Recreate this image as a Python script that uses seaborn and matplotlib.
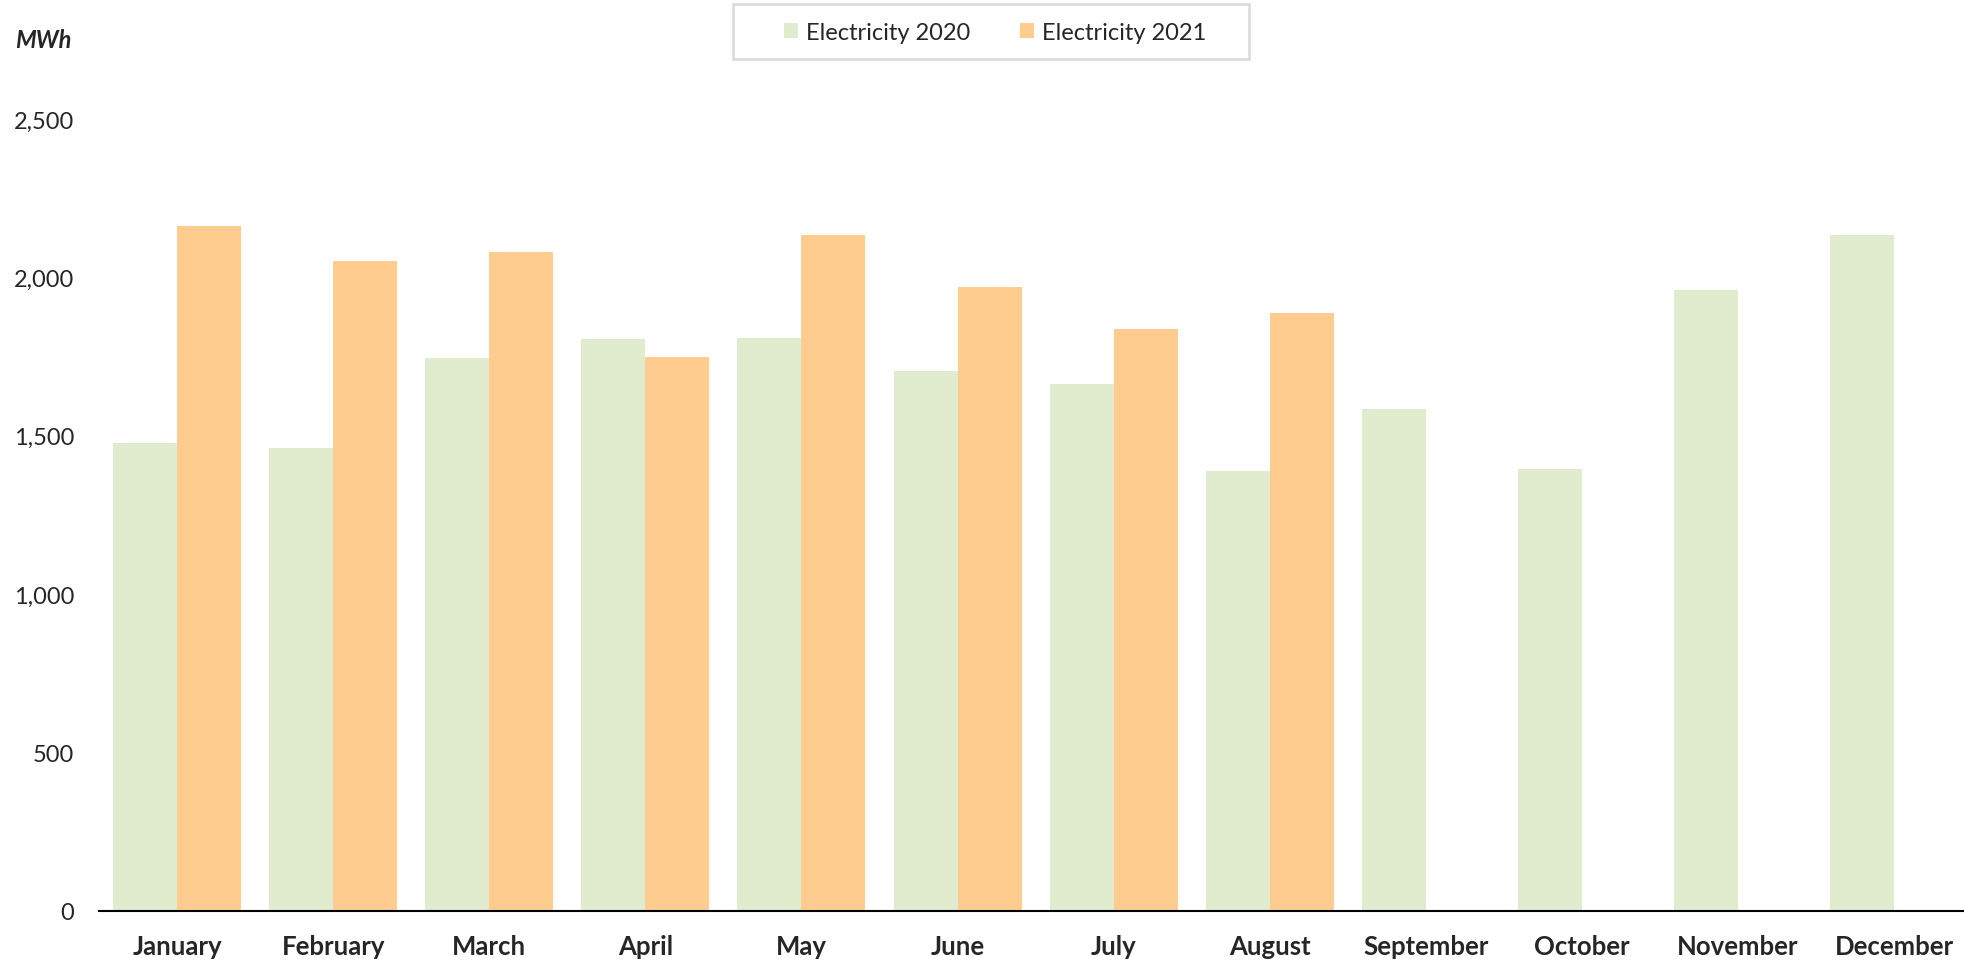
import numpy as np
import pandas as pd
import matplotlib
matplotlib.use("Agg")
import matplotlib.pyplot as plt
from matplotlib.patches import Rectangle
import seaborn as sns

# Monthly electricity consumption (MWh)
MONTHS = ["January", "February", "March", "April", "May", "June",
          "July", "August", "September", "October", "November", "December"]
ELEC_2020 = [1478, 1460, 1747, 1804, 1810, 1703, 1662, 1390, 1585, 1395, 1961, 2135]
ELEC_2021 = [2163, 2051, 2080, 1748, 2134, 1970, 1837, 1888, np.nan, np.nan, np.nan, np.nan]
SERIES = ["Electricity 2020", "Electricity 2021"]
COLORS = ["#E1EBCE", "#FFCC8F"]
Y_TICKS = [0, 500, 1000, 1500, 2000, 2500]

sns.set_style("white")
plt.rcParams["font.family"] = ["Lato", "DejaVu Sans"]

df = pd.DataFrame({
    "Month": MONTHS * 2,
    "Series": [SERIES[0]] * len(MONTHS) + [SERIES[1]] * len(MONTHS),
    "MWh": ELEC_2020 + ELEC_2021,
})

fig = plt.figure(figsize=(19.64, 9.62), dpi=100)
W, H = 1964, 962
ax = fig.add_axes([99 / W, 1 - 912 / H, (W - 99) / W, 792 / H])

sns.barplot(data=df, x="Month", y="MWh", hue="Series", order=MONTHS,
            hue_order=SERIES, palette=COLORS, width=0.82, saturation=1,
            linewidth=0, ax=ax)

ax.set_xlim(-0.5, -0.5 + (W - 99) / 156.1)
ax.set_ylim(0, 2500)
ax.set_yticks(Y_TICKS)
ax.set_yticklabels([f"{v:,}" for v in Y_TICKS])
ax.set_xlabel("")
ax.set_ylabel("")
ax.tick_params(axis="y", length=0, pad=18, labelsize=17)
ax.tick_params(axis="x", length=0, pad=16.5, labelsize=18.5)
for lbl in ax.get_xticklabels():
    lbl.set_fontweight("bold")

for side in ["top", "right", "left"]:
    ax.spines[side].set_visible(False)
ax.spines["bottom"].set_color("black")
ax.spines["bottom"].set_linewidth(1.5)

fig.text(15 / W, 1 - 41 / H, "MWh", fontsize=17, fontweight="bold",
         fontstyle="italic", va="center", ha="left")

# legend box drawn separately so the horizontal padding can be wider than the vertical
handles, labels = ax.get_legend_handles_labels()
ax.get_legend().remove()
fig.patches.append(Rectangle((733 / W, 1 - 60 / H), 516 / W, 55 / H,
                             transform=fig.transFigure, facecolor="white",
                             edgecolor="#D9D9D9", linewidth=1.8, zorder=5))
leg = fig.legend(handles, labels, loc="center",
                 bbox_to_anchor=(995 / W, 1 - 33 / H), ncol=2, fontsize=17,
                 frameon=False, handlelength=0.62, handleheight=0.62,
                 handletextpad=0.32, columnspacing=2.1, borderpad=0.2)
leg.set_zorder(6)

fig.savefig("out.png", dpi=100)
